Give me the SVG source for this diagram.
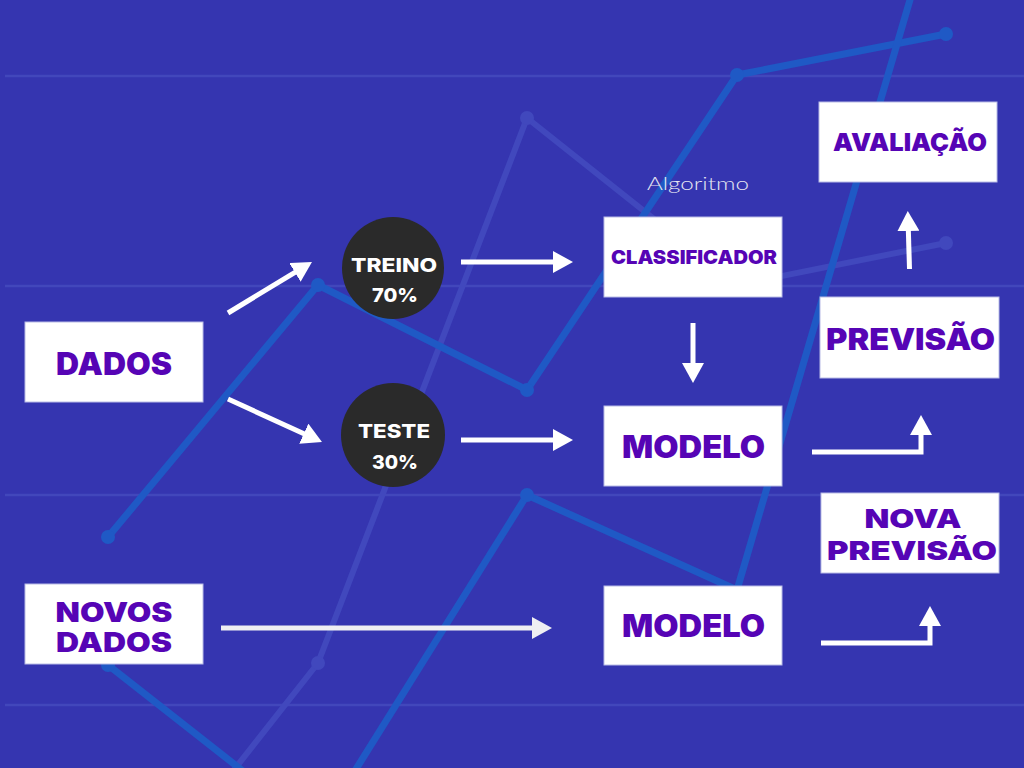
<svg xmlns="http://www.w3.org/2000/svg" width="1024" height="768" viewBox="0 0 1024 768">
<style>
.guide{stroke:#4247bb;stroke-width:2.5;fill:none}
.chartA{stroke:#1f59c5;stroke-width:7;fill:none;stroke-linejoin:round}
.chartB{stroke:#4148bd;stroke-width:6;fill:none;stroke-linejoin:round}
.dotA{fill:#1f59c5}
.dotB{fill:#4148bd}
.box{fill:#ffffff;stroke:#b9bce6;stroke-width:1}
.lbl{font-family:Inter,"Liberation Sans",sans-serif;font-weight:900;fill:#5604b5;text-anchor:middle}
.circ{fill:#2a2a2a}
.ctxt{font-family:Inter,"Liberation Sans",sans-serif;font-weight:800;fill:#ffffff;text-anchor:middle;font-size:19px}
.conn{stroke:#ffffff;stroke-width:5;fill:none;stroke-linejoin:miter}
</style>
<defs>
<marker id="ah" viewBox="0 0 20 22" markerWidth="20" markerHeight="22" refX="2" refY="11" orient="auto" markerUnits="userSpaceOnUse">
<path d="M0,0 L20,11 L0,22 z" fill="#ffffff"/>
</marker>
<marker id="ah2" viewBox="0 0 20 22" markerWidth="20" markerHeight="22" refX="2" refY="11" orient="auto" markerUnits="userSpaceOnUse">
<path d="M0,0 L20,11 L0,22 z" fill="#efeff2"/>
</marker>
</defs>
<rect x="0" y="0" width="1024" height="768" fill="#3535b0"/>
<g id="background">
<line class="guide" x1="5" y1="76" x2="1024" y2="76"/>
<line class="guide" x1="5" y1="286" x2="1024" y2="286"/>
<line class="guide" x1="5" y1="495" x2="1024" y2="495"/>
<line class="guide" x1="5" y1="705" x2="1024" y2="705"/>
<polyline class="chartB" points="108,930 318,663 527,118 737,285 946,243"/>
<circle class="dotB" cx="318" cy="663" r="7"/>
<circle class="dotB" cx="527" cy="118" r="7"/>
<circle class="dotB" cx="946" cy="243" r="7"/>
<polyline class="chartA" points="108,537 318,285 527,390 737,75 946,34"/>
<circle class="dotA" cx="108" cy="537" r="7"/>
<circle class="dotA" cx="318" cy="285" r="7"/>
<circle class="dotA" cx="527" cy="390" r="7"/>
<circle class="dotA" cx="737" cy="75" r="7"/>
<circle class="dotA" cx="946" cy="34" r="7"/>
<polyline class="chartA" points="108,665 318,830 527,495 737,590 946,-123"/>
<circle class="dotA" cx="108" cy="665" r="7"/>
<circle class="dotA" cx="527" cy="495" r="7"/>
</g>
<g id="node-dados">
<rect class="box" x="25" y="322" width="178" height="80"/>
<text class="lbl" x="114" y="375" font-size="31" textLength="116" lengthAdjust="spacingAndGlyphs">DADOS</text>
</g>
<g id="node-novos-dados">
<rect class="box" x="25" y="584" width="178" height="80"/>
<text class="lbl" x="114" y="622" font-size="27" textLength="117" lengthAdjust="spacingAndGlyphs">NOVOS</text>
<text class="lbl" x="114" y="652" font-size="27" textLength="116" lengthAdjust="spacingAndGlyphs">DADOS</text>
</g>
<g id="node-treino">
<circle class="circ" cx="393" cy="268" r="51"/>
<text class="ctxt" x="394" y="272" textLength="86" lengthAdjust="spacingAndGlyphs">TREINO</text>
<text class="ctxt" x="395" y="302" textLength="46" lengthAdjust="spacingAndGlyphs">70%</text>
</g>
<g id="node-teste">
<circle class="circ" cx="393" cy="435" r="52"/>
<text class="ctxt" x="394" y="438" textLength="72" lengthAdjust="spacingAndGlyphs">TESTE</text>
<text class="ctxt" x="395" y="469" textLength="46" lengthAdjust="spacingAndGlyphs">30%</text>
</g>
<g id="node-classificador">
<text x="698" y="190" font-family="Lato,'Open Sans',sans-serif" font-weight="300" font-size="17" fill="#e6e6f2" text-anchor="middle" textLength="102" lengthAdjust="spacingAndGlyphs">Algoritmo</text>
<rect class="box" x="604" y="217" width="178" height="80"/>
<text class="lbl" x="694" y="264" font-size="19" textLength="166" lengthAdjust="spacingAndGlyphs">CLASSIFICADOR</text>
</g>
<g id="node-modelo-1">
<rect class="box" x="604" y="406" width="178" height="80"/>
<text class="lbl" x="693.5" y="458" font-size="31" textLength="143" lengthAdjust="spacingAndGlyphs">MODELO</text>
</g>
<g id="node-modelo-2">
<rect class="box" x="604" y="586" width="178" height="79"/>
<text class="lbl" x="693.5" y="637" font-size="31" textLength="143" lengthAdjust="spacingAndGlyphs">MODELO</text>
</g>
<g id="node-avaliacao">
<rect class="box" x="819" y="102" width="178" height="80"/>
<text class="lbl" x="910" y="151" font-size="25" textLength="154" lengthAdjust="spacingAndGlyphs">AVALIAÇÃO</text>
</g>
<g id="node-previsao">
<rect class="box" x="820" y="297" width="179" height="81"/>
<text class="lbl" x="910.5" y="350" font-size="30" textLength="169" lengthAdjust="spacingAndGlyphs">PREVISÃO</text>
</g>
<g id="node-nova-previsao">
<rect class="box" x="821" y="493" width="178" height="80"/>
<text class="lbl" x="913" y="528" font-size="26" textLength="97" lengthAdjust="spacingAndGlyphs">NOVA</text>
<text class="lbl" x="912" y="560" font-size="26" textLength="170" lengthAdjust="spacingAndGlyphs">PREVISÃO</text>
</g>
<g id="connectors">
<line class="conn" x1="228" y1="313" x2="296.6" y2="271.3" marker-end="url(#ah)"/>
<line class="conn" x1="228" y1="399" x2="305.6" y2="434.5" marker-end="url(#ah)"/>
<line class="conn" x1="461" y1="262" x2="555" y2="262" marker-end="url(#ah)"/>
<line class="conn" x1="461" y1="440" x2="555" y2="440" marker-end="url(#ah)"/>
<line class="conn" x1="693" y1="323" x2="693" y2="365" marker-end="url(#ah)"/>
<line class="conn" x1="909.5" y1="269" x2="908.3" y2="229" marker-end="url(#ah)"/>
<path class="conn" d="M812,452 L921,452 L921,433" marker-end="url(#ah)"/>
<path class="conn" d="M821,643 L930,643 L930,624" marker-end="url(#ah)"/>
<line class="conn" x1="221" y1="628" x2="534" y2="628" style="stroke:#efeff2" marker-end="url(#ah2)"/>
</g>
</svg>
